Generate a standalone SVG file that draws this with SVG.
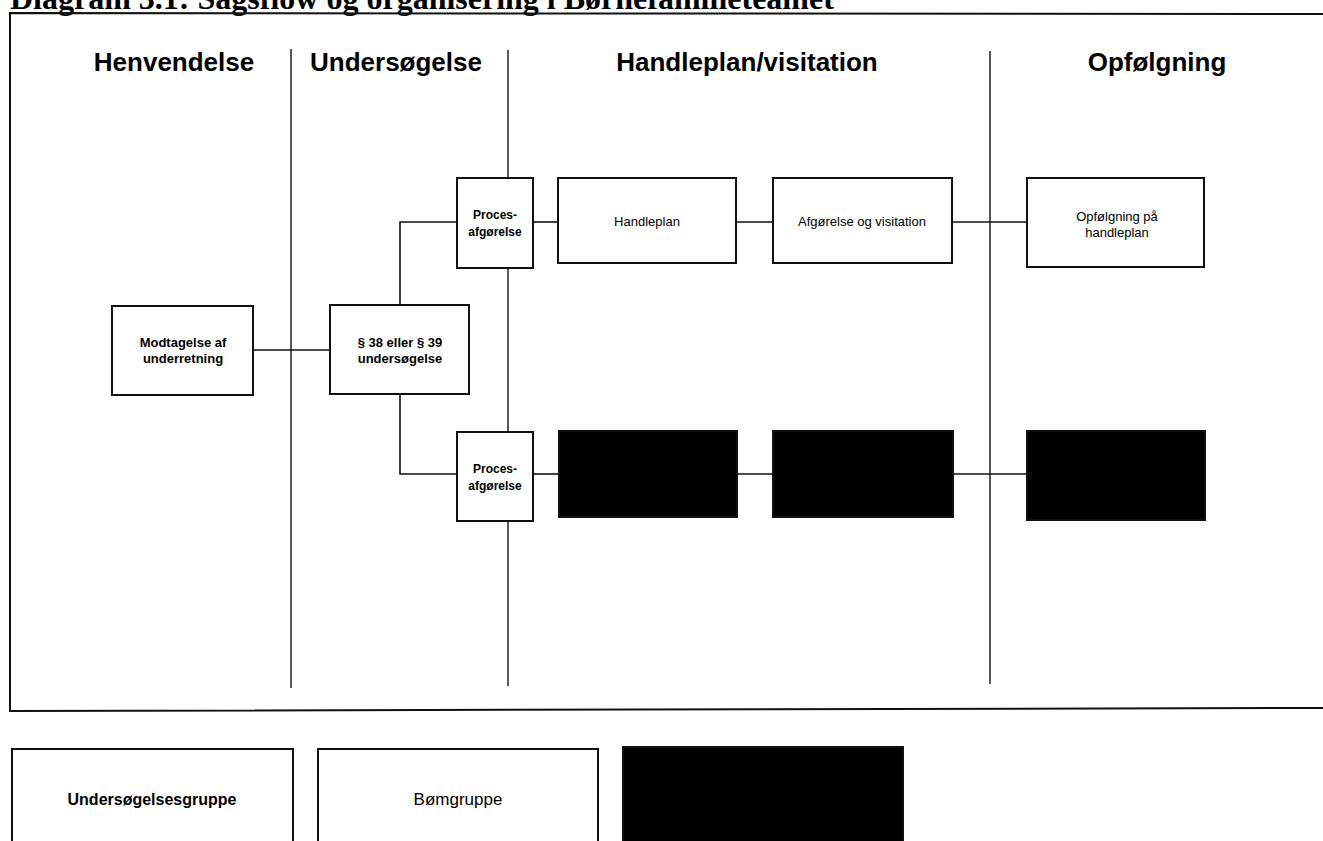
<svg xmlns="http://www.w3.org/2000/svg" width="1323" height="841" viewBox="0 0 1323 841">
<style>
.frame{fill:none;stroke:#111;stroke-width:2}
.div{stroke:#222;stroke-width:1.5}
.box{fill:#fff;stroke:#111;stroke-width:2}
.blk{fill:#000;stroke:#111;stroke-width:2}
.con{fill:none;stroke:#111;stroke-width:1.6}
.hdr{font-family:"Liberation Sans",Arial,sans-serif;font-weight:bold;font-size:26px;text-anchor:middle;fill:#000}
.lb{font-family:"Liberation Sans",Arial,sans-serif;font-weight:bold;font-size:13px;text-anchor:middle;fill:#000}
.lp{font-family:"Liberation Sans",Arial,sans-serif;font-weight:bold;font-size:12px;text-anchor:middle;fill:#000}
.ln{font-family:"Liberation Sans",Arial,sans-serif;font-size:13px;text-anchor:middle;fill:#000}
.lg{font-family:"Liberation Sans",Arial,sans-serif;font-weight:bold;font-size:16px;text-anchor:middle;fill:#000}
.lgn{font-family:"Liberation Sans",Arial,sans-serif;font-weight:normal;font-size:17px;text-anchor:middle;fill:#000}
.title{font-family:"Liberation Serif","Times New Roman",serif;font-weight:bold;font-size:32px;fill:#000}
</style>
<rect width="1323" height="841" fill="#fff"/>
<text class="title" x="10" y="9">Diagram 3.1: Sagsflow og organisering i Børnefamilieteamet</text>
<g id="frame">
<polyline class="frame" points="1323,14 10,13 10,711 1323,708"/>
<line class="div" x1="291" y1="49" x2="291" y2="688"/>
<line class="div" x1="508" y1="50" x2="508" y2="686"/>
<line class="div" x1="990" y1="51" x2="990" y2="684"/>
</g>
<g id="headers">
<text class="hdr" x="174" y="71">Henvendelse</text>
<text class="hdr" x="396" y="71">Undersøgelse</text>
<text class="hdr" x="747" y="71">Handleplan/visitation</text>
<text class="hdr" x="1157" y="71">Opfølgning</text>
</g>
<g id="connectors">
<line class="con" x1="253" y1="350" x2="330" y2="350"/>
<polyline class="con" points="400,305 400,222 457,222"/>
<polyline class="con" points="400,394 400,474 457,474"/>
<line class="con" x1="533" y1="222" x2="558" y2="222"/>
<line class="con" x1="736" y1="222" x2="773" y2="222"/>
<line class="con" x1="952" y1="222" x2="1027" y2="222"/>
<line class="con" x1="533" y1="474" x2="559" y2="474"/>
<line class="con" x1="737" y1="474" x2="773" y2="474"/>
<line class="con" x1="953" y1="474" x2="1027" y2="474"/>
</g>
<g id="modtagelse">
<rect class="box" x="112" y="306" width="141" height="89"/>
<text class="lb" x="183" y="347">Modtagelse af</text>
<text class="lb" x="183" y="363">underretning</text>
</g>
<g id="undersoegelse">
<rect class="box" x="330" y="305" width="139" height="89"/>
<text class="lb" x="400" y="347">§ 38 eller § 39</text>
<text class="lb" x="400" y="363">undersøgelse</text>
</g>
<g id="proces1">
<rect class="box" x="457" y="178" width="76" height="90"/>
<text class="lp" x="495" y="219">Proces-</text>
<text class="lp" x="495" y="236">afgørelse</text>
</g>
<g id="handleplan">
<rect class="box" x="558" y="178" width="178" height="85"/>
<text class="ln" x="647" y="226">Handleplan</text>
</g>
<g id="afgoerelse">
<rect class="box" x="773" y="178" width="179" height="85"/>
<text class="ln" x="862" y="226">Afgørelse og visitation</text>
</g>
<g id="opfoelgning">
<rect class="box" x="1027" y="178" width="177" height="89"/>
<text class="ln" x="1117" y="221">Opfølgning på</text>
<text class="ln" x="1117" y="237">handleplan</text>
</g>
<g id="proces2">
<rect class="box" x="457" y="432" width="76" height="89"/>
<text class="lp" x="495" y="473">Proces-</text>
<text class="lp" x="495" y="490">afgørelse</text>
</g>
<g id="black1"><rect class="blk" x="559" y="431" width="178" height="86"/></g>
<g id="black2"><rect class="blk" x="773" y="431" width="180" height="86"/></g>
<g id="black3"><rect class="blk" x="1027" y="431" width="178" height="89"/></g>
<g id="legend1">
<rect class="box" x="12" y="749" width="281" height="110"/>
<text class="lg" x="152" y="805">Undersøgelsesgruppe</text>
</g>
<g id="legend2">
<rect class="box" x="318" y="749" width="280" height="110"/>
<text class="lgn" x="458" y="805">Bømgruppe</text>
</g>
<g id="legend3"><rect class="blk" x="623" y="747" width="280" height="110"/></g>
</svg>
